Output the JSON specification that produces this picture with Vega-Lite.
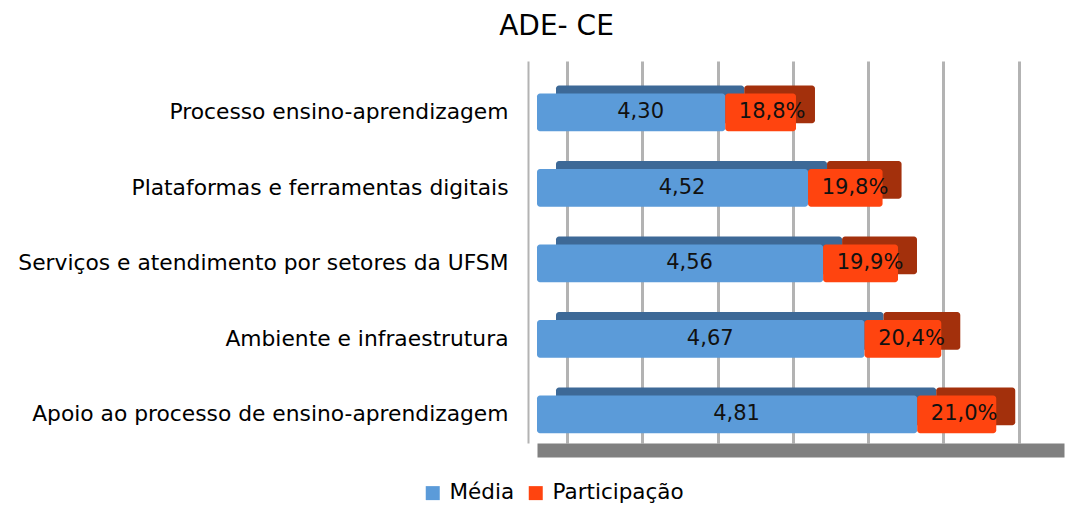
{
  "$schema": "https://vega.github.io/schema/vega-lite/v6.json",
  "width": 527,
  "height": 382,
  "autosize": "none",
  "padding": {"left": 537, "top": 61, "right": 19, "bottom": 62},
  "title": {"text": "ADE- CE", "font": "DejaVu Sans", "fontSize": 28, "fontWeight": "normal", "color": "#000000", "anchor": "middle", "dx": -244, "offset": 20},
  "config": {
    "view": {"stroke": null},
    "font": "DejaVu Sans",
    "locale": {"number": {"decimal": ",", "thousands": ".", "grouping": [3], "currency": ["R$", ""]}}
  },
  "data": {
    "values": [
      {"categoria": "Processo ensino-aprendizagem", "media": 4.30, "participacao": 0.188},
      {"categoria": "Plataformas e ferramentas digitais", "media": 4.52, "participacao": 0.198},
      {"categoria": "Serviços e atendimento por setores da UFSM", "media": 4.56, "participacao": 0.199},
      {"categoria": "Ambiente e infraestrutura", "media": 4.67, "participacao": 0.204},
      {"categoria": "Apoio ao processo de ensino-aprendizagem", "media": 4.81, "participacao": 0.210}
    ]
  },
  "transform": [
    {"fold": ["media", "participacao"], "as": ["serie", "valor"]},
    {"stack": "valor", "groupby": ["categoria"], "sort": [{"field": "serie", "order": "ascending"}], "as": ["v0", "v1"]}
  ],
  "encoding": {
    "y": {
      "field": "categoria", "type": "nominal", "sort": null,
      "scale": {"paddingInner": 0.5, "paddingOuter": 0.28, "align": 0.77},
      "axis": {"title": null, "offset": 9, "ticks": false, "labelPadding": 20, "labelFont": "DejaVu Sans", "labelFontSize": 21.8, "labelColor": "#000000", "labelLimit": 700, "domainColor": "#b3b3b3", "domainWidth": 2}
    }
  },
  "layer": [
    {
      "layer": [
        {
          "transform": [{"filter": "datum.serie == 'media'"}],
          "mark": {"type": "bar", "color": "#3d6997", "cornerRadius": 3, "xOffset": 19, "x2Offset": 19, "yOffset": -8, "y2Offset": -8},
          "encoding": {
            "x": {"field": "v1", "type": "quantitative",
              "scale": {"domain": [3.8, 5.2], "nice": false, "zero": false},
              "axis": {"title": null, "labels": false, "ticks": false, "offset": 7, "domainColor": "#808080", "domainWidth": 14, "grid": true, "gridColor": "#b3b3b3", "gridWidth": 3, "tickOffset": 30, "values": [3.8, 4.0, 4.2, 4.4, 4.6, 4.8, 5.0]}},
            "x2": {"datum": 3.8}
          }
        },
        {
          "transform": [{"filter": "datum.serie == 'participacao'"}],
          "mark": {"type": "bar", "color": "#a3300c", "cornerRadius": 3, "xOffset": 19, "x2Offset": 19, "yOffset": -8, "y2Offset": -8},
          "encoding": {
            "x": {"field": "v0", "type": "quantitative", "scale": {"domain": [3.8, 5.2], "nice": false, "zero": false}},
            "x2": {"field": "v1"}
          }
        },
        {
          "transform": [{"filter": "datum.serie == 'media'"}],
          "mark": {"type": "bar", "cornerRadius": 3},
          "encoding": {
            "x": {"field": "v1", "type": "quantitative", "scale": {"domain": [3.8, 5.2], "nice": false, "zero": false}},
            "x2": {"datum": 3.8},
            "color": {"field": "serie", "type": "nominal",
              "scale": {"domain": ["media", "participacao"], "range": ["#5b9bd9", "#ff440f"]},
              "legend": {"orient": "none", "legendX": -115, "legendY": 421, "direction": "horizontal", "title": null, "symbolType": "square", "symbolSize": 196, "symbolStrokeWidth": 0, "labelFont": "DejaVu Sans", "labelFontSize": 21.5, "labelColor": "#000000", "columnPadding": 10, "labelOffset": 6, "labelExpr": "datum.label == 'media' ? 'Média' : 'Participação'"}}
          }
        },
        {
          "transform": [{"filter": "datum.serie == 'participacao'"}],
          "mark": {"type": "bar", "cornerRadius": 3},
          "encoding": {
            "x": {"field": "v0", "type": "quantitative", "scale": {"domain": [3.8, 5.2], "nice": false, "zero": false}},
            "x2": {"field": "v1"},
            "color": {"field": "serie", "type": "nominal"}
          }
        },
        {
          "transform": [{"filter": "datum.serie == 'participacao'"}],
          "mark": {"type": "text", "align": "center", "baseline": "middle", "font": "DejaVu Sans", "fontSize": 21, "color": "#111111", "xOffset": 47},
          "encoding": {
            "x": {"field": "v0", "type": "quantitative", "scale": {"domain": [3.8, 5.2], "nice": false, "zero": false}},
            "text": {"field": "valor", "type": "quantitative", "format": ".1%"}
          }
        }
      ]
    },
    {
      "transform": [{"filter": "datum.serie == 'media'"}],
      "mark": {"type": "text", "align": "center", "baseline": "middle", "font": "DejaVu Sans", "fontSize": 21, "color": "#111111", "xOffset": 9.5},
      "encoding": {
        "x": {"field": "v1", "type": "quantitative", "scale": {"domain": [3.8, 6.6], "nice": false, "zero": false}, "axis": null},
        "text": {"field": "valor", "type": "quantitative", "format": ".2f"}
      }
    }
  ],
  "resolve": {"scale": {"x": "independent"}}
}
